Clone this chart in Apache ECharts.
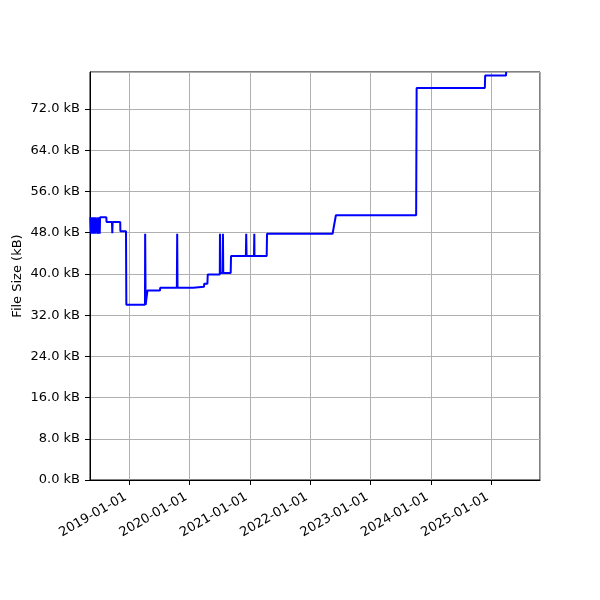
<!DOCTYPE html>
<html>
<head>
<meta charset="utf-8">
<script src="https://cdn.jsdelivr.net/npm/echarts@6/dist/echarts.min.js"></script>
<style>html,body{margin:0;padding:0;background:#fff}#c{width:600px;height:600px}</style>
</head>
<body>
<div id="c"></div>
<script>
// commit dates and file size (kB)
var dates = [
  '2018-05-10','2018-05-14','2018-05-15','2018-05-18','2018-05-19','2018-05-21','2018-05-23','2018-05-25',
  '2018-05-27','2018-05-29','2018-05-31','2018-06-02','2018-06-04','2018-06-06','2018-06-08','2018-06-10',
  '2018-06-12','2018-06-22','2018-06-24','2018-06-26','2018-07-04','2018-07-06','2018-07-08','2018-08-15','2018-08-16',
  '2018-09-18','2018-09-20','2018-09-22','2018-11-07','2018-11-08','2018-12-12','2018-12-14',
  '2019-04-06','2019-04-07','2019-04-10','2019-04-16','2019-04-21','2019-07-06','2019-07-07',
  '2019-10-16','2019-10-18','2019-10-20','2020-01-23','2020-01-25','2020-03-28','2020-03-30',
  '2020-04-18','2020-04-20','2020-07-02','2020-07-03','2020-07-05','2020-07-19','2020-07-21','2020-07-23',
  '2020-09-06','2020-09-08','2020-12-07','2020-12-09','2020-12-11','2021-01-25','2021-01-27','2021-01-28',
  '2021-04-12','2021-04-14','2022-05-16','2022-06-05','2023-10-04','2023-10-07','2024-11-23','2024-11-25',
  '2025-03-31','2025-04-01'
];
var sizes = [
  51.0, 51.0, 47.8, 47.8, 51.0, 47.8, 51.0, 47.8,
  51.0, 47.8, 51.0, 47.8, 51.0, 47.8, 51.0, 47.8,
  51.0, 51.0, 47.8, 51.0, 51.0, 47.8, 51.0, 51.0, 50.1,
  50.1, 47.9, 50.1, 50.1, 48.3, 48.3, 34.0,
  34.0, 47.8, 34.0, 34.0, 36.8, 36.8, 37.3,
  37.3, 47.8, 37.3, 37.3, 37.5, 37.5, 38.1,
  38.1, 39.9, 39.9, 47.8, 40.2, 40.2, 47.8, 40.2,
  40.2, 43.5, 43.5, 47.8, 43.5, 43.5, 47.8, 43.5,
  43.5, 47.8, 47.8, 51.4, 51.4, 76.1, 76.1, 78.5,
  78.5, 79.2
];
var yTicks = [0, 8, 16, 24, 32, 40, 48, 56, 64, 72];

var data = dates.map(function (d, i) { return [d, sizes[i]]; });

var chart = echarts.init(document.getElementById('c'), null, {renderer: 'canvas'});
var font = 'DejaVu Sans';
chart.setOption({
  animation: false,
  backgroundColor: '#fff',
  grid: {left: 90, right: 60, top: 72, bottom: 120, containLabel: false, outerBoundsMode: 'none',
    show: true, borderColor: '#000', borderWidth: 1, backgroundColor: 'transparent'},
  xAxis: {
    type: 'time',
    min: '2018-05-08',
    max: '2025-10-23',
    minInterval: 365 * 24 * 3600 * 1000,
    maxInterval: 366 * 24 * 3600 * 1000,
    axisLine: {show: true, lineStyle: {color: '#000', width: 1}},
    axisTick: {show: true, inside: false, length: 5, lineStyle: {color: '#000'}},
    splitLine: {show: true, lineStyle: {color: '#b0b0b0', width: 1}},
    axisLabel: {
      rotate: 30, margin: 14, padding: [0, 4, 0, 0], color: '#000', fontFamily: font, fontSize: 13,
      showMinLabel: false, showMaxLabel: false,
      formatter: function (v) { return echarts.time.format(v, '{yyyy}-{MM}-{dd}', false); }
    }
  },
  yAxis: {
    type: 'value',
    min: 0,
    max: 79.2,
    interval: 8,
    name: 'File Size (kB)',
    nameLocation: 'middle',
    nameGap: 66,
    nameMoveOverlap: false,
    nameTextStyle: {color: '#000', fontFamily: font, fontSize: 13},
    axisLine: {show: true, lineStyle: {color: '#000', width: 1}},
    axisTick: {show: true, inside: false, length: 5, lineStyle: {color: '#000'}},
    splitLine: {show: true, lineStyle: {color: '#b0b0b0', width: 1}},
    axisLabel: {
      margin: 10, color: '#000', fontFamily: font, fontSize: 13,
      showMaxLabel: false,
      formatter: function (v) { return yTicks.indexOf(v) >= 0 ? v.toFixed(1) + ' kB' : ''; }
    }
  },
  series: [{
    type: 'line',
    data: data,
    showSymbol: false,
    symbol: 'none',
    lineStyle: {color: '#0000ff', width: 2},
    clip: true
  }]
});
</script>
</body>
</html>
